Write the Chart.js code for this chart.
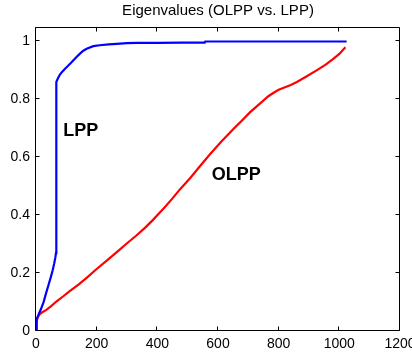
<!DOCTYPE html>
<html><head><meta charset="utf-8">
<script src="https://cdn.jsdelivr.net/npm/chart.js@4.4.1/dist/chart.umd.min.js"></script>
<style>html,body{margin:0;padding:0;background:#fff}#wrap{width:412px;height:356px;position:relative}canvas{display:block}</style>
</head><body><div id="wrap"><canvas id="c" width="412" height="356"></canvas></div>
<script>
const chartTitle = 'Eigenvalues (OLPP vs. LPP)';
const xTicks = [0, 200, 400, 600, 800, 1000, 1200];
const yTicks = [0, 0.2, 0.4, 0.6, 0.8, 1];

const lppX = [0, 1, 3, 9, 16, 25, 33, 41, 49, 55, 60, 64, 66, 66, 68, 72, 78, 85, 95, 105, 118, 132, 145, 156, 167, 189, 210, 240, 266, 300, 332, 400, 480, 556, 558, 700, 850, 1024];
const lppY = [0, 0.02, 0.04, 0.058, 0.075, 0.1, 0.13, 0.158, 0.187, 0.21, 0.233, 0.255, 0.27, 0.83, 0.86, 0.872, 0.884, 0.894, 0.905, 0.915, 0.929, 0.945, 0.958, 0.968, 0.975, 0.984, 0.987, 0.99, 0.992, 0.994, 0.995, 0.995, 0.996, 0.996, 1.0, 1.0, 1.0, 1.0];

const olppX = [0, 2, 5, 10, 18, 33, 50, 66, 90, 110, 140, 165, 200, 240, 275, 300, 330, 360, 385, 409, 423, 450, 475, 510, 541, 575, 612, 650, 680, 706, 740, 765, 782, 800, 821, 840, 860, 890, 925, 955, 980, 1000, 1020];
const olppY = [0, 0.03, 0.045, 0.055, 0.063, 0.072, 0.086, 0.101, 0.12, 0.137, 0.16, 0.182, 0.214, 0.249, 0.28, 0.303, 0.329, 0.357, 0.383, 0.41, 0.426, 0.458, 0.49, 0.53, 0.57, 0.612, 0.655, 0.697, 0.728, 0.756, 0.787, 0.81, 0.822, 0.833, 0.842, 0.85, 0.86, 0.878, 0.9, 0.92, 0.94, 0.957, 0.98];

const curveLabels = ['LPP', 'OLPP'];
const curveLabelX = [90, 579];
const curveLabelY = [0.672, 0.523];

const FONT = '"Liberation Sans", Arial, Helvetica, sans-serif';

const toPts = (xs, ys) => xs.map((x, i) => ({x: x, y: ys[i]}));

const axesPlugin = {
  id: 'matlabAxes',
  afterDatasetsDraw(chart) {
    const ctx = chart.ctx;
    const a = chart.chartArea;
    const xs = chart.scales.x, ys = chart.scales.y;
    ctx.save();
    ctx.strokeStyle = '#000';
    ctx.lineWidth = 1;
    const L = Math.round(a.left) - 0.5, R = Math.round(a.right) - 0.5;
    const T = Math.round(a.top) + 0.5, B = Math.round(a.bottom) - 0.5;
    ctx.beginPath();
    ctx.rect(L, T, R - L, B - T);
    ctx.stroke();
    const tl = 4;
    ctx.beginPath();
    xTicks.forEach(v => {
      const px = Math.round(xs.getPixelForValue(v)) - 0.5;
      ctx.moveTo(px, B); ctx.lineTo(px, B - tl);
      ctx.moveTo(px, T); ctx.lineTo(px, T + tl);
    });
    yTicks.forEach(v => {
      const py = Math.round(ys.getPixelForValue(v)) - 0.5;
      ctx.moveTo(L, py); ctx.lineTo(L + tl, py);
      ctx.moveTo(R, py); ctx.lineTo(R - tl, py);
    });
    ctx.stroke();
    // curve labels
    ctx.fillStyle = '#000';
    ctx.font = 'bold 18px ' + FONT;
    ctx.textAlign = 'left';
    ctx.textBaseline = 'alphabetic';
    curveLabels.forEach((t, i) => {
      ctx.fillText(t, xs.getPixelForValue(curveLabelX[i]), ys.getPixelForValue(curveLabelY[i]));
    });
    // title
    ctx.font = '15px ' + FONT;
    ctx.textAlign = 'center';
    ctx.fillText(chartTitle, (a.left + a.right) / 2, 15);
    ctx.restore();
  }
};

new Chart(document.getElementById('c'), {
  type: 'scatter',
  data: {
    datasets: [
      {label: 'LPP', data: toPts(lppX, lppY), showLine: true, borderColor: '#0000ff', backgroundColor: '#0000ff', borderWidth: 2.2, pointRadius: 0, tension: 0},
      {label: 'OLPP', data: toPts(olppX, olppY), showLine: true, borderColor: '#ff0000', backgroundColor: '#ff0000', borderWidth: 2.2, pointRadius: 0, tension: 0}
    ]
  },
  options: {
    responsive: false,
    animation: false,
    devicePixelRatio: 1,
    layout: {padding: {top: 27, right: 12, left: 0, bottom: 0}},
    plugins: {legend: {display: false}, title: {display: false}, tooltip: {enabled: false}},
    scales: {
      x: {
        type: 'linear', min: 0, max: 1200,
        grid: {display: false, drawTicks: false},
        border: {display: false},
        afterBuildTicks: s => { s.ticks = xTicks.map(v => ({value: v})); },
        afterFit: s => { s.height = 25; s.paddingLeft = 0; s.paddingRight = 0; },
        ticks: {color: '#000', font: {family: FONT, size: 14}, padding: 5, maxRotation: 0, autoSkip: false, callback: v => String(v)}
      },
      y: {
        type: 'linear', min: 0, max: 1.05,
        grid: {display: false, drawTicks: false},
        border: {display: false},
        afterBuildTicks: s => { s.ticks = yTicks.map(v => ({value: v})); },
        afterFit: s => { s.width = 36; s.paddingTop = 0; s.paddingBottom = 0; },
        ticks: {color: '#000', font: {family: FONT, size: 14}, padding: 6, autoSkip: false, callback: v => String(v)}
      }
    }
  },
  plugins: [axesPlugin]
});
</script>
</body></html>
